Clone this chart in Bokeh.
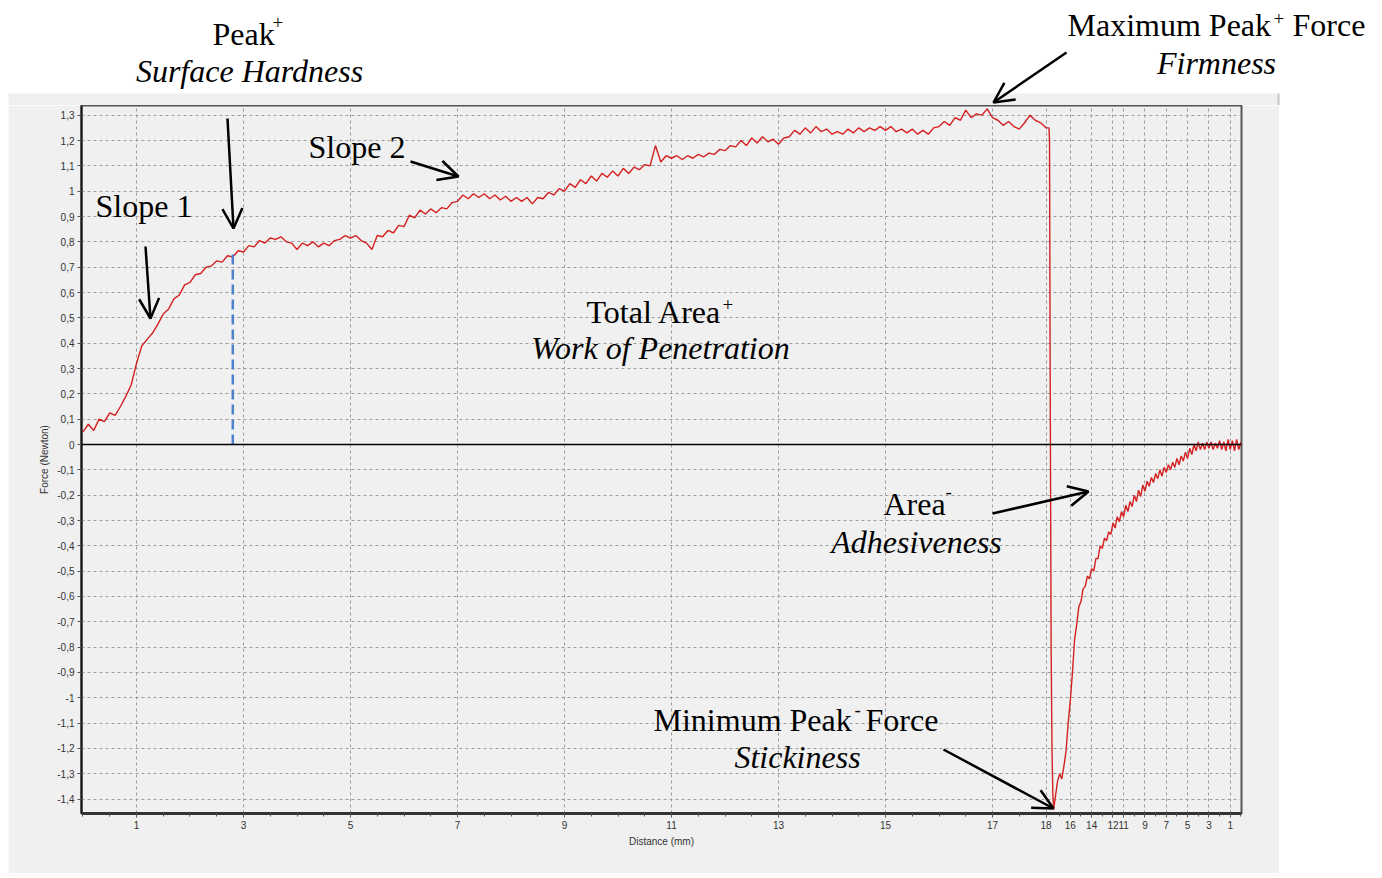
import numpy as np
from bokeh.plotting import figure
from bokeh.models import (FixedTicker, Label, Arrow, OpenHead, Span, BoxAnnotation, Range1d)
from bokeh.embed import file_html
from bokeh.resources import INLINE

# ---------------- data ----------------
# forward stroke (penetration), force in N every 0.1 mm from 0 to 18 mm
FWD_FORCE = [
    0.05, 0.08, 0.055, 0.10, 0.09, 0.125, 0.115, 0.15, 0.19, 0.235,
    0.32, 0.39, 0.415, 0.44, 0.475, 0.515, 0.535, 0.575, 0.59, 0.63,
    0.64, 0.67, 0.675, 0.70, 0.705, 0.725, 0.72, 0.745, 0.74, 0.765,
    0.76, 0.785, 0.78, 0.805, 0.795, 0.815, 0.81, 0.82, 0.80, 0.795,
    0.77, 0.795, 0.785, 0.80, 0.78, 0.795, 0.785, 0.805, 0.81, 0.825,
    0.815, 0.825, 0.805, 0.795, 0.77, 0.825, 0.82, 0.845, 0.835, 0.865,
    0.86, 0.905, 0.895, 0.925, 0.91, 0.93, 0.915, 0.935, 0.93, 0.955,
    0.96, 0.985, 0.97, 0.99, 0.975, 0.99, 0.97, 0.985, 0.965, 0.98,
    0.96, 0.975, 0.96, 0.975, 0.95, 0.975, 0.97, 0.995, 0.985, 1.01,
    1.0, 1.03, 1.015, 1.045, 1.03, 1.06, 1.04, 1.07, 1.055, 1.08,
    1.06, 1.09, 1.07, 1.095, 1.085, 1.105, 1.10, 1.18, 1.115, 1.14,
    1.13, 1.14, 1.125, 1.14, 1.13, 1.145, 1.135, 1.15, 1.145, 1.165,
    1.16, 1.18, 1.175, 1.20, 1.18, 1.21, 1.19, 1.215, 1.195, 1.205,
    1.185, 1.21, 1.215, 1.24, 1.225, 1.25, 1.23, 1.255, 1.235, 1.245,
    1.225, 1.235, 1.225, 1.245, 1.23, 1.25, 1.235, 1.25, 1.24, 1.255,
    1.24, 1.255, 1.235, 1.245, 1.23, 1.245, 1.225, 1.24, 1.225, 1.25,
    1.255, 1.275, 1.26, 1.29, 1.28, 1.32, 1.29, 1.305, 1.30, 1.325,
    1.29, 1.28, 1.26, 1.275, 1.255, 1.245, 1.27, 1.30, 1.28, 1.27,
    1.25,
]
FWD_DIST = np.round(np.arange(len(FWD_FORCE)) * 0.1, 2)

# withdrawal stroke: distance (mm, counting back from 18) and force (N)
RET_DIST = [
    18.0, 17.95, 17.9, 17.85, 17.8, 17.72, 17.64, 17.56, 17.5,
    17.4, 17.2, 17.0, 16.8, 16.6, 16.4, 16.2, 16.0,
    15.8, 15.6, 15.4, 15.2, 15.0, 14.8, 14.6, 14.4, 14.2, 14.0,
    13.8, 13.6, 13.4, 13.2, 13.0, 12.8, 12.6, 12.4, 12.2, 12.0,
    11.8, 11.6, 11.4, 11.2, 11.0, 10.8, 10.6, 10.4, 10.2, 10.0,
    9.8, 9.6, 9.4, 9.2, 9.0, 8.8, 8.6, 8.4, 8.2, 8.0,
    7.8, 7.6, 7.4, 7.2, 7.0, 6.8, 6.6, 6.4, 6.2, 6.0,
    5.8, 5.6, 5.4, 5.2, 5.0, 4.8, 4.6, 4.4, 4.2, 4.0,
    3.8, 3.6, 3.4, 3.2, 3.0, 2.8, 2.6, 2.4, 2.2, 2.0,
    1.8, 1.6, 1.4, 1.2, 1.0, 0.8, 0.6, 0.4, 0.2, 0.0,
]
RET_FORCE = [
    1.25, 1.20, 0.40, -0.20, -0.80, -1.20, -1.38, -1.44, -1.42,
    -1.39, -1.33, -1.30, -1.32, -1.27, -1.21, -1.10, -1.01,
    -0.90, -0.77, -0.71, -0.64, -0.62, -0.57, -0.56, -0.52, -0.53, -0.49,
    -0.50, -0.45, -0.45, -0.40, -0.41, -0.37, -0.38, -0.345, -0.355, -0.31,
    -0.33, -0.285, -0.305, -0.265, -0.285, -0.24, -0.265, -0.225, -0.245, -0.20,
    -0.225, -0.18, -0.205, -0.16, -0.185, -0.145, -0.165, -0.13, -0.15, -0.115,
    -0.135, -0.10, -0.125, -0.09, -0.11, -0.08, -0.10, -0.07, -0.09, -0.055,
    -0.08, -0.045, -0.065, -0.03, -0.055, -0.015, -0.04, 0.0, -0.025, 0.01,
    -0.02, 0.005, -0.02, 0.01, -0.015, 0.01, -0.02, 0.005, -0.015, 0.015,
    -0.02, 0.01, -0.025, 0.02, -0.02, 0.015, -0.025, 0.02, -0.02, 0.01,
]
assert len(RET_DIST) == len(RET_FORCE)

PEAK_DIST = 2.8      # Peak+ (surface hardness) position
PEAK_FORCE = 0.77

FWD_TICKS = [1, 3, 5, 7, 9, 11, 13, 15, 17, 18]
RET_TICKS = [16, 14, 12, 11, 9, 7, 5, 3, 1]
Y_TICKS = [round(k / 10, 1) for k in range(-14, 14)]

# ---------------- axis geometry ----------------
RET_SCALE = 10.66 / 53.5    # withdrawal is drawn compressed
RET_OFFSET = 0.056


def ret_pos(d):
    return 18 + RET_OFFSET + (18 - np.asarray(d, dtype=float)) * RET_SCALE


X0, X1 = -0.028, 21.654
Y0, Y1 = -1.4566, 1.3382

FRAME_L, FRAME_T, FRAME_W, FRAME_H = 81, 105, 1160, 708   # page pixels


def ax(px):  # page pixel -> data x (annotation placement)
    return X0 + (px - FRAME_L) / FRAME_W * (X1 - X0)


def ay(py):  # page pixel -> data y
    return Y1 - (py - FRAME_T) / FRAME_H * (Y1 - Y0)


SERIF = "Liberation Serif"
BIG = 32
SUP = 19
BASE_SHIFT = 0.37   # renderer places the label ~0.37em below the given y

# ---------------- top strip (annotations above the chart) ----------------
TOP_W = 1382
top = figure(width=TOP_W, height=FRAME_T, min_border=0,
             x_range=Range1d(0, TOP_W), y_range=Range1d(FRAME_T, 0),
             x_axis_location=None, y_axis_location=None,
             output_backend="svg", toolbar_location=None,
             background_fill_color="white", border_fill_color="white")
top.grid.visible = False
top.outline_line_color = None
top.add_layout(BoxAnnotation(left=8, right=1277, top=93, bottom=FRAME_T,
                             fill_color="#f0f0f0", fill_alpha=1.0, line_color=None,
                             level="underlay"))
top.add_layout(BoxAnnotation(left=1277, right=1279, top=93, bottom=FRAME_T,
                             fill_color="#c4c4c4", fill_alpha=1.0, line_color=None,
                             level="underlay"))


def ttxt(t, px, base, size=BIG, style="normal", align="left"):
    top.add_layout(Label(x=px, y=base - BASE_SHIFT * size, text=t, text_font=SERIF,
                         text_font_size=f"{size}px", text_font_style=style,
                         text_align=align, text_baseline="alphabetic",
                         text_color="black"))


ttxt("Peak", 212, 45)
ttxt("+", 272, 29, size=SUP)
ttxt("Surface Hardness", 249, 82, style="italic", align="center")
ttxt("Maximum Peak", 1067, 36)
ttxt("+", 1273, 25, size=SUP)
ttxt("Force", 1292, 36)
ttxt("Firmness", 1216, 74, style="italic", align="center")
top.add_layout(Arrow(end=OpenHead(size=20, line_width=2.5, line_color="black"),
                     x_start=1066, y_start=52, x_end=993, y_end=102,
                     line_width=2.5, line_color="black"))

# ---------------- main chart ----------------
p = figure(frame_width=FRAME_W, frame_height=FRAME_H,
           min_border_left=FRAME_L - 8, min_border_right=1279 - (FRAME_L + FRAME_W),
           min_border_top=0, min_border_bottom=60,
           x_range=Range1d(X0, X1), y_range=Range1d(Y0, Y1),
           output_backend="svg", toolbar_location=None,
           background_fill_color="#f0f0f0", border_fill_color="#f0f0f0")
p.margin = (0, 0, 0, 8)

x_major = [round(float(t), 6) for t in FWD_TICKS] + \
          [round(float(ret_pos(t)), 6) for t in RET_TICKS]
x_labels = {}
for t in FWD_TICKS:
    x_labels[round(float(t), 6)] = str(t)
for t in RET_TICKS:
    x_labels[round(float(ret_pos(t)), 6)] = str(t)
x_minor = [round(k * 0.5, 2) for k in range(0, 37)] + \
          [round(float(ret_pos(d)), 6) for d in range(17, -1, -1)]
xt = FixedTicker(ticks=x_major, minor_ticks=x_minor)
yt = FixedTicker(ticks=Y_TICKS)
p.xaxis.ticker = xt
p.yaxis.ticker = yt
p.xgrid.ticker = xt
p.ygrid.ticker = yt
p.xaxis.major_label_overrides = x_labels
p.yaxis.major_label_overrides = {v: f"{v:g}".replace(".", ",") for v in Y_TICKS}

for a in (p.xaxis, p.yaxis):
    a.major_label_text_font = "Liberation Sans"
    a.major_label_text_font_size = "10px"
    a.major_label_text_color = "#333333"
    a.axis_label_text_font = "Liberation Sans"
    a.axis_label_text_font_size = "10px"
    a.axis_label_text_font_style = "normal"
    a.axis_label_text_color = "#333333"
    a.major_tick_in = 0
    a.major_tick_out = 4
    a.minor_tick_in = 0
    a.minor_tick_out = 3
    a.major_tick_line_color = "#555555"
    a.minor_tick_line_color = "#555555"
    a.major_label_standoff = 3
    a.axis_label_standoff = 4
p.yaxis.minor_tick_line_color = None
p.xaxis.axis_label = "Distance (mm)"
p.yaxis.axis_label = "Force (Newton)"
p.xaxis.axis_line_width = 3
p.xaxis.axis_line_color = "#333333"
p.yaxis.axis_line_width = 2
p.yaxis.axis_line_color = "#111111"
p.outline_line_color = "#555555"
p.outline_line_width = 2

for g in (p.xgrid, p.ygrid):
    g.grid_line_color = "#9c9c9c"
    g.grid_line_dash = "3 3"
    g.grid_line_width = 1

p.add_layout(Span(location=0, dimension="width", line_color="black", line_width=1.3))

# curve
s_all = np.concatenate([FWD_DIST, ret_pos(RET_DIST)])
f_all = np.concatenate([np.asarray(FWD_FORCE), np.asarray(RET_FORCE)])
p.line(s_all, f_all, line_color="#d42020", line_width=1.4)

# Peak+ marker
p.segment(x0=[PEAK_DIST], y0=[0], x1=[PEAK_DIST], y1=[PEAK_FORCE],
          line_color="#4f80cc", line_width=2.5, line_dash="10 5")


def txt(t, px, base, size=BIG, style="normal", align="left"):
    p.add_layout(Label(x=ax(px), y=ay(base - BASE_SHIFT * size), text=t, text_font=SERIF,
                       text_font_size=f"{size}px", text_font_style=style,
                       text_align=align, text_baseline="alphabetic",
                       text_color="black"))


txt("Slope 1", 95, 217)
txt("Slope 2", 308, 158)
txt("Total Area", 586, 323)
txt("+", 722, 311, size=SUP)
txt("Work of Penetration", 660, 359, style="italic", align="center")
txt("Area", 883, 515)
txt("-", 945, 498, size=SUP)
txt("Adhesiveness", 916, 553, style="italic", align="center")
txt("Minimum Peak", 653, 731)
txt("-", 854, 716, size=SUP)
txt("Force", 865, 731)
txt("Stickiness", 797, 768, style="italic", align="center")


def arrow(x0, y0, x1, y1):
    p.add_layout(Arrow(end=OpenHead(size=20, line_width=2.5, line_color="black"),
                       x_start=ax(x0), y_start=ay(y0), x_end=ax(x1), y_end=ay(y1),
                       line_width=2.5, line_color="black"))


arrow(227, 118, 233, 228)
arrow(145, 246, 150, 318)
arrow(410, 161, 458, 176)
arrow(992, 513, 1088, 491)
arrow(943, 749, 1053, 808)

open("out.html", "w").write(file_html([top, p], INLINE))
